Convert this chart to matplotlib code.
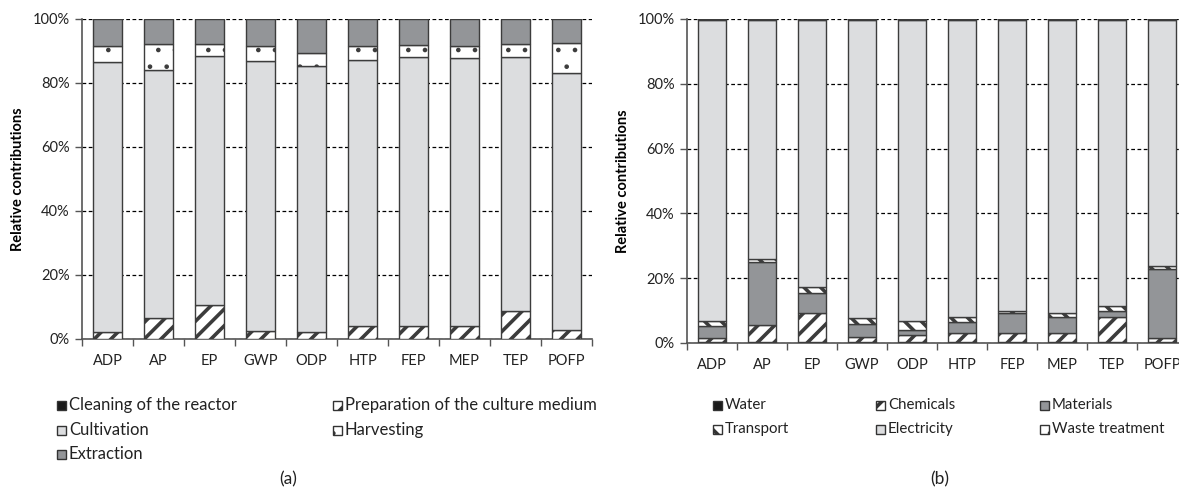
import numpy as np
import matplotlib
matplotlib.use("Agg")
from matplotlib import pyplot as plt
from matplotlib.patches import Rectangle

plt.rcParams['font.family'] = ['Lato', 'DejaVu Sans']
plt.rcParams['hatch.linewidth'] = 2.6

categories = ['ADP', 'AP', 'EP', 'GWP', 'ODP', 'HTP', 'FEP', 'MEP', 'TEP', 'POFP']

# (a) contributions per stage, in %
cleaning = [0.1, 0.1, 0.1, 0.1, 0.1, 0.1, 0.1, 0.1, 0.1, 0.1]
preparation = [2.1, 6.5, 10.4, 2.5, 2.1, 3.9, 3.9, 3.9, 8.5, 2.8]
cultivation = [84.5, 77.5, 77.9, 84.2, 83.2, 83.2, 84.0, 83.7, 79.6, 80.3]
harvesting = [5.0, 8.2, 3.9, 4.9, 4.0, 4.5, 4.0, 4.0, 3.9, 9.2]
extraction = [8.3, 7.7, 7.7, 8.3, 10.6, 8.3, 8.0, 8.3, 7.9, 7.6]

# (b) contributions per input, in %
water = [0.2, 0.2, 0.2, 0.2, 0.2, 0.2, 0.2, 0.2, 0.2, 0.2]
chemicals = [1.2, 5.5, 9.0, 1.5, 2.4, 2.9, 2.9, 2.9, 7.7, 1.3]
materials = [4.0, 19.3, 6.2, 4.3, 1.3, 3.4, 6.1, 4.9, 1.9, 21.3]
transport = [1.4, 1.0, 1.9, 1.7, 3.0, 1.5, 0.8, 1.2, 1.7, 1.1]
electricity = [92.9, 73.7, 82.4, 92.0, 92.8, 91.7, 89.7, 90.5, 88.2, 75.8]
waste = [0.3, 0.3, 0.3, 0.3, 0.3, 0.3, 0.3, 0.3, 0.3, 0.3]

W, H = 1179, 493
EDGE = '#3c3c3c'
LIGHT = '#dcdddf'
DARK = '#939598'

styles_a = [
    ('Cleaning of the reactor', cleaning, '#1a1a1a', None),
    ('Preparation of the culture medium', preparation, 'white', '//'),
    ('Cultivation', cultivation, LIGHT, None),
    ('Harvesting', harvesting, 'white', '.'),
    ('Extraction', extraction, DARK, None),
]
styles_b = [
    ('Water', water, '#1a1a1a', None),
    ('Chemicals', chemicals, 'white', '//'),
    ('Materials', materials, DARK, None),
    ('Transport', transport, 'white', '\\\\'),
    ('Electricity', electricity, LIGHT, None),
    ('Waste treatment', waste, 'white', '.'),
]


def thin_dots(patch, hatch):
    # dotted fills need a much finer hatch line than the stripes
    if hatch == '.' and hasattr(patch, 'set_hatch_linewidth'):
        patch.set_hatch_linewidth(0.9)


def px_axes(left, top, right, bottom):
    return fig.add_axes([left / W, 1 - bottom / H, (right - left) / W, (bottom - top) / H])


def stacked(ax, styles, width):
    x = np.arange(len(categories))
    base = np.zeros(len(categories))
    for name, vals, color, hatch in styles:
        vals = np.array(vals)
        bars = ax.bar(x, vals, width, bottom=base, color=color, hatch=hatch,
                      edgecolor=EDGE, linewidth=1.0, zorder=3)
        for b in bars:
            thin_dots(b, hatch)
        base += vals
    ax.set_xlim(-0.5, len(categories) - 0.5)
    ax.set_ylim(0, 100)
    ax.set_yticks(np.arange(0, 101, 20))
    ax.set_yticklabels([f'{v}%' for v in range(0, 101, 20)])
    ax.set_xticks(x)
    ax.set_xticklabels(categories)
    ax.set_xticks(np.arange(-0.5, len(categories), 1), minor=True)
    ax.tick_params(axis='x', which='major', length=0, pad=11, labelsize=10.5, colors='#222222')
    ax.tick_params(axis='x', which='minor', length=5, width=1, direction='out', color='#555555')
    ax.tick_params(axis='y', length=5, width=1, direction='out', color='#555555',
                   labelsize=10.5, labelcolor='#222222', pad=4)
    ax.yaxis.grid(True, linestyle=(0, (3, 2)), color='black', linewidth=0.9, zorder=0)
    for s in ('top', 'right'):
        ax.spines[s].set_visible(False)
    for s in ('left', 'bottom'):
        ax.spines[s].set_color('#555555')
        ax.spines[s].set_linewidth(1.2)
    ax.set_ylabel('Relative contributions', fontweight='bold', fontsize=10.5, labelpad=5)


def legend_entry(xp, yp, label, color, hatch, size):
    sq = 9
    rect = Rectangle((xp / W, 1 - (yp + sq / 2) / H), sq / W, sq / H,
                     transform=fig.transFigure, facecolor=color, hatch=hatch,
                     edgecolor='#333333', linewidth=1.0)
    thin_dots(rect, hatch)
    fig.patches.append(rect)
    fig.text((xp + sq + 3) / W, 1 - yp / H, label, fontsize=size, va='center',
             ha='left', color='#222222')


fig = plt.figure(figsize=(W / 100, H / 100), dpi=100)

ax_a = px_axes(82, 19, 592, 339)
stacked(ax_a, styles_a, 0.55)
ax_b = px_axes(687, 19, 1187, 343)
stacked(ax_b, styles_b, 0.57)

# legends below each panel
pos_a = [(57, 405), (333, 405), (57, 430), (333, 430), (57, 454)]
for (xp, yp), (name, _, color, hatch) in zip(pos_a, styles_a):
    legend_entry(xp, yp, name, color, hatch, 12)

pos_b = [(713, 405), (876, 405), (1040, 405), (713, 429), (876, 429), (1040, 429)]
for (xp, yp), (name, _, color, hatch) in zip(pos_b, styles_b):
    legend_entry(xp, yp, name, color, hatch, 10.8)

fig.text(288 / W, 1 - 479 / H, '(a)', fontsize=12.5, ha='center', va='center', color='#222222')
fig.text(940 / W, 1 - 479 / H, '(b)', fontsize=12.5, ha='center', va='center', color='#222222')

fig.savefig('out.png', dpi=100)
